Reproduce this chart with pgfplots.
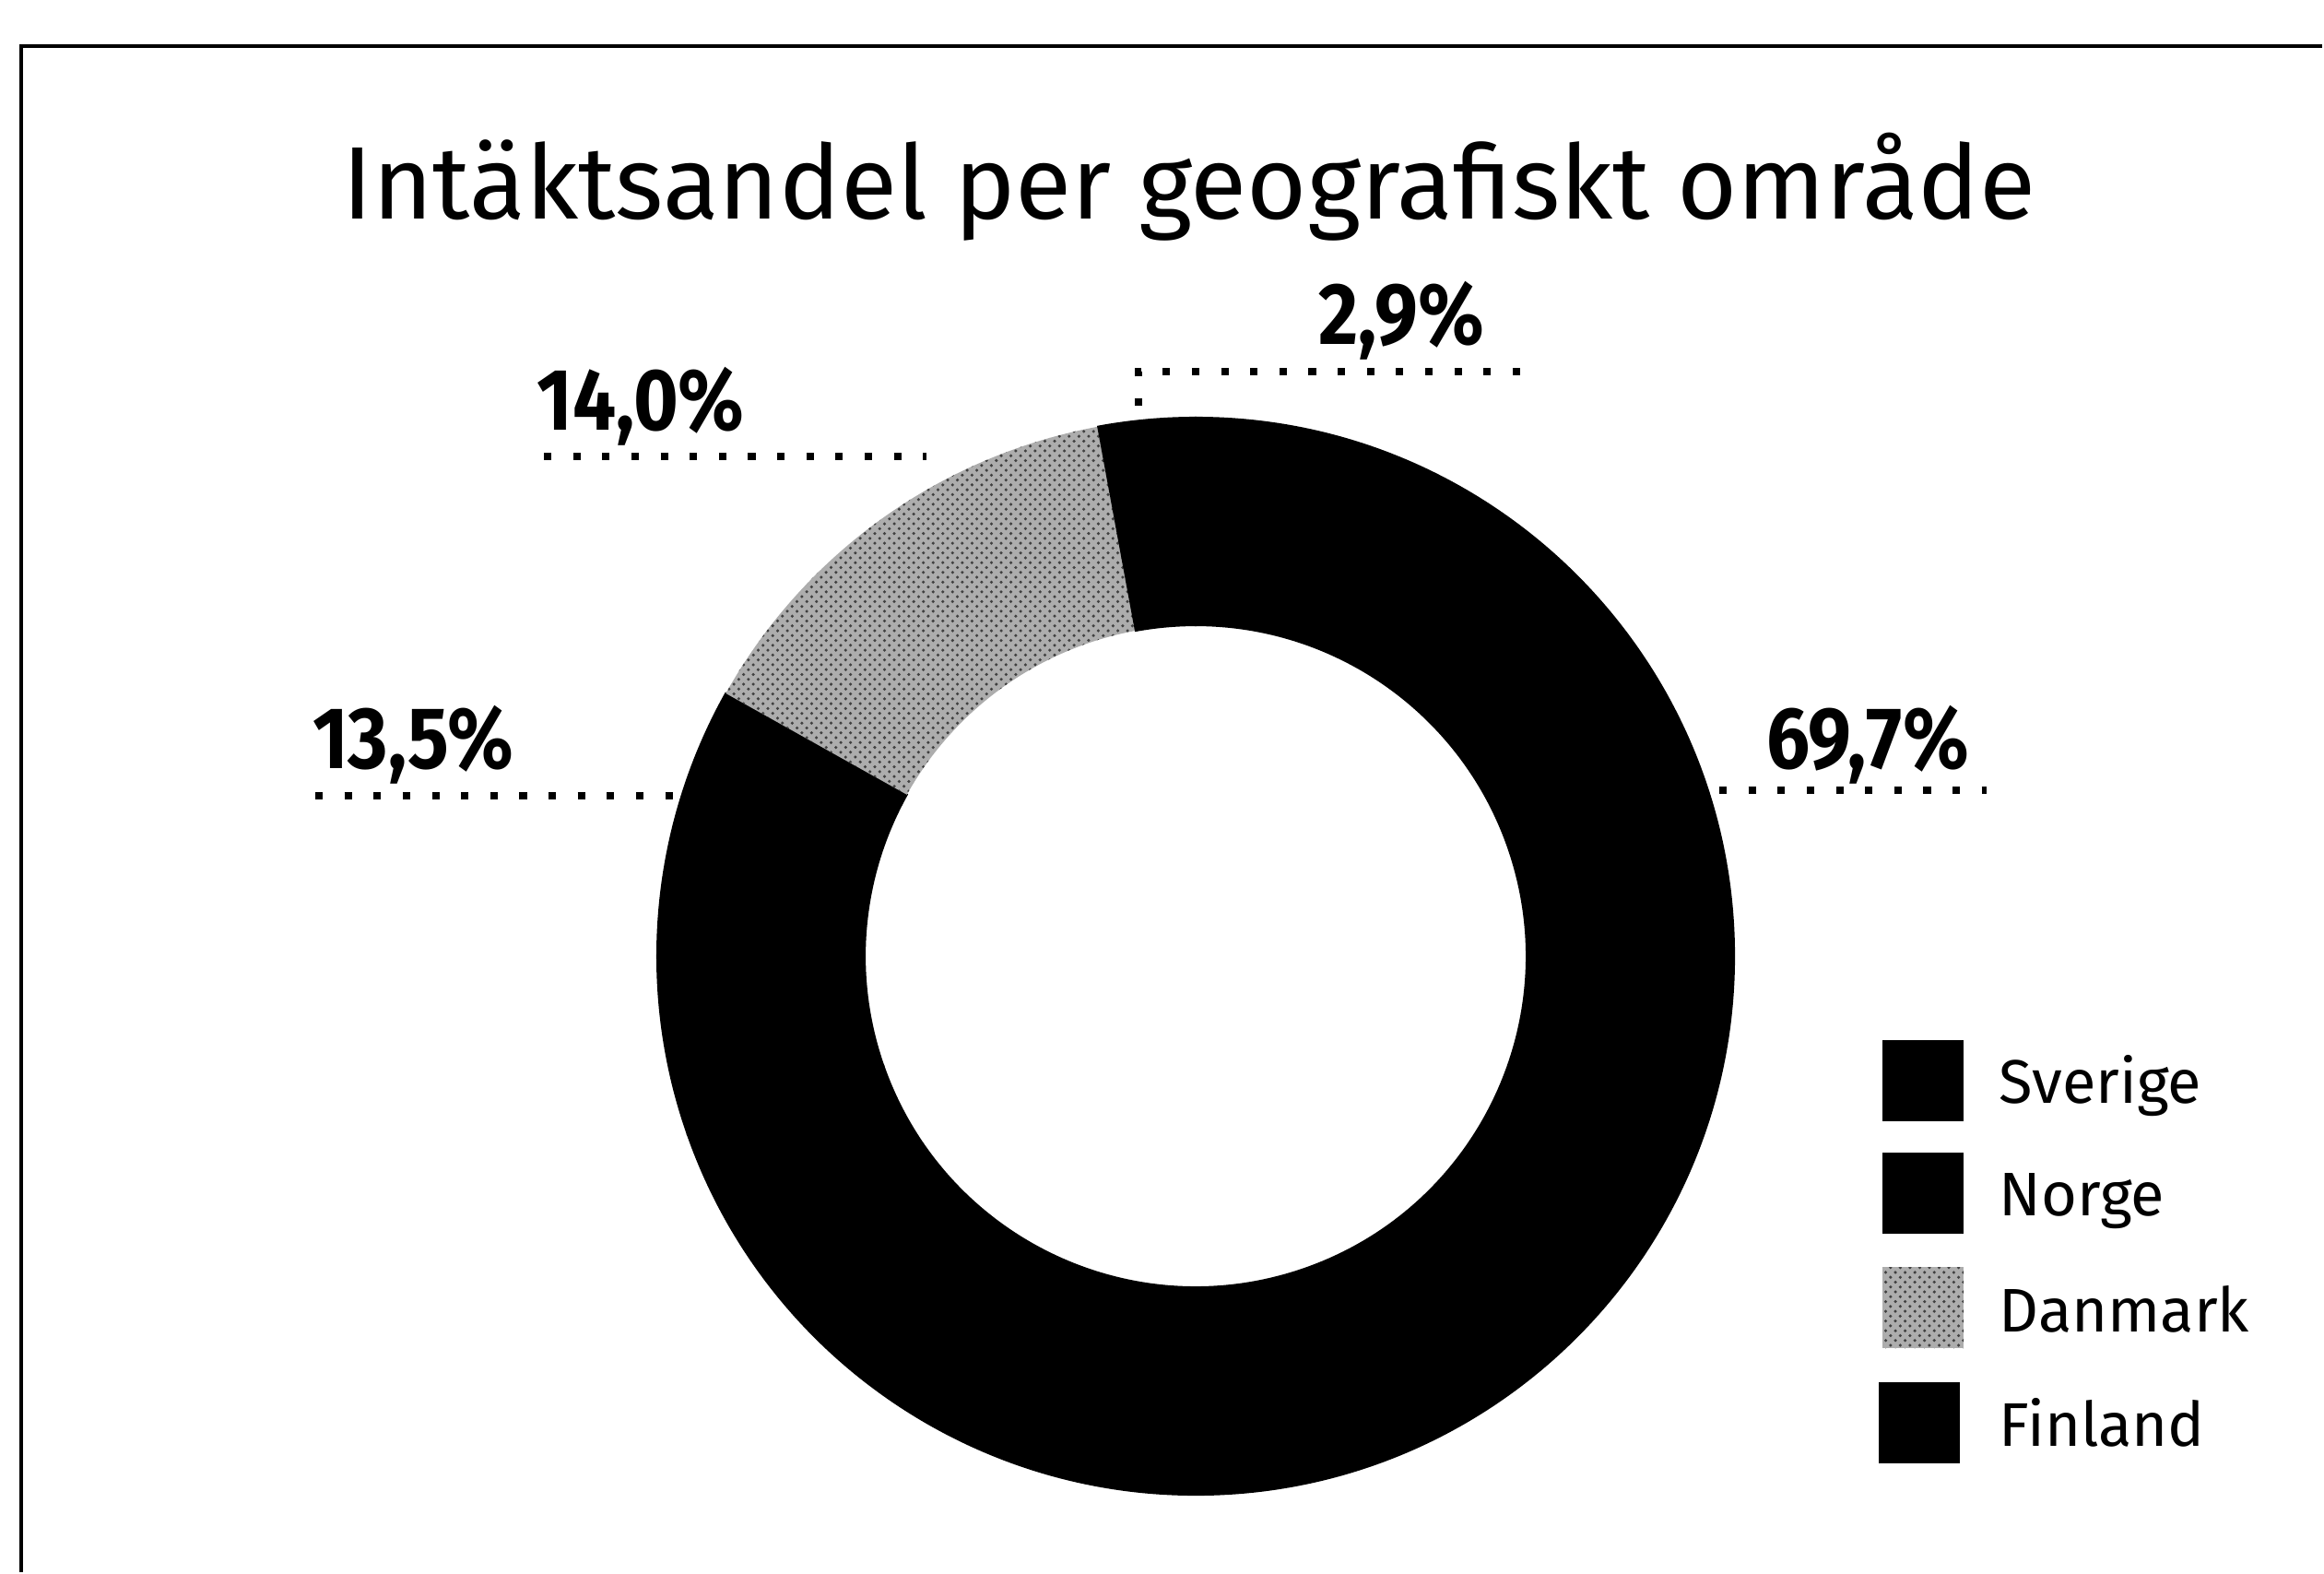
\documentclass[border=0pt]{standalone}
\usepackage{pgfplots}
\usepackage{pgfplotstable}
\pgfplotsset{compat=1.18}
\usepackage{fontspec}
\setmainfont{Fira Sans}
\newfontfamily\labfont[FakeStretch=0.88]{Fira Sans}
\usetikzlibrary{patterns}
\pgfplotstableread{
land share
Sverige 69.7
Norge 13.5
Danmark 14.0
Finland 2.9
}\sharetable
\pgfplotstablegetelem{0}{share}\of\sharetable\let\vSverige\pgfplotsretval
\pgfplotstablegetelem{1}{share}\of\sharetable\let\vNorge\pgfplotsretval
\pgfplotstablegetelem{2}{share}\of\sharetable\let\vDanmark\pgfplotsretval
\pgfplotstablegetelem{3}{share}\of\sharetable\let\vFinland\pgfplotsretval
\pgfmathsetmacro\total{\vSverige+\vNorge+\vDanmark+\vFinland}
\pgfmathsetmacro\aA{90}
\pgfmathsetmacro\aB{\aA-3.6*(\vSverige/\total)*100}
\pgfmathsetmacro\aC{\aB-3.6*(\vNorge/\total)*100}
\pgfmathsetmacro\aD{\aC-3.6*(\vDanmark/\total)*100}
\pgfmathsetmacro\aE{\aD-3.6*(\vFinland/\total)*100}
\newcommand{\seg}[3]{%
  \path[#3] ([shift={(#1:5.84cm)}]axis cs:1297,668)
    arc[start angle=#1, end angle=#2, radius=5.84cm]
    -- ([shift={(#2:3.59cm)}]axis cs:1297,668)
    arc[start angle=#2, end angle=#1, radius=3.59cm] -- cycle;}
\begin{document}
\begin{tikzpicture}[
  dotline/.style={line width=2.3pt, dash pattern=on 2.3pt off 6.7pt, black},
  pct/.style={font=\labfont\bfseries\fontsize{27}{30}\selectfont, anchor=base, inner sep=0pt},
  leg/.style={font=\fontsize{19}{22}\selectfont, anchor=base west, inner sep=0pt},
  blk/.style={fill=black, draw=black, line width=0.6pt},
  dk/.style={fill=black!32, postaction={pattern=crosshatch dots, pattern color=black!75}}
]
\begin{axis}[
  width=25.21cm, height=17.05cm, scale only axis,
  xmin=0, xmax=2521, ymin=0, ymax=1705,
  hide axis, clip=false
]
\path (rel axis cs:0,0) rectangle (rel axis cs:1,1);
% frame
\draw[line width=1pt] (axis cs:23,0) -- (axis cs:23,1655) -- (axis cs:2519,1655);
% title
\node[anchor=base, inner sep=0pt, font=\fontsize{31.8}{36}\selectfont] at (axis cs:1290,1467) {Intäktsandel per geografiskt område};
% donut
\seg{\aA}{\aB}{blk}
\seg{\aB}{\aC}{blk}
\seg{\aC}{\aD}{dk}
\seg{\aD}{\aE}{blk}
% leaders
\draw[dotline] (axis cs:1235,1265) -- (axis cs:1235,1302) -- (axis cs:1650,1302);
\draw[dotline] (axis cs:590,1210) -- (axis cs:1005,1210);
\draw[dotline] (axis cs:342,842) -- (axis cs:732,842);
\draw[dotline] (axis cs:1865,848) -- (axis cs:2155,848);
% labels
\node[pct] at (axis cs:1520,1332) {2,9\%};
\node[pct] at (axis cs:695,1239) {14,0\%};
\node[pct] at (axis cs:448,872) {13,5\%};
\node[pct] at (axis cs:2026,872) {69,7\%};
% legend
\fill[black] (axis cs:2042,489) rectangle (axis cs:2130,577);
\fill[black] (axis cs:2042,367) rectangle (axis cs:2130,455);
\fill[dk] (axis cs:2042,243) rectangle (axis cs:2130,331);
\fill[black] (axis cs:2038,118) rectangle (axis cs:2126,206);
\node[leg] at (axis cs:2168,509) {Sverige};
\node[leg] at (axis cs:2168,387) {Norge};
\node[leg] at (axis cs:2168,261) {Danmark};
\node[leg] at (axis cs:2168,137) {Finland};
\end{axis}
\end{tikzpicture}
\end{document}
